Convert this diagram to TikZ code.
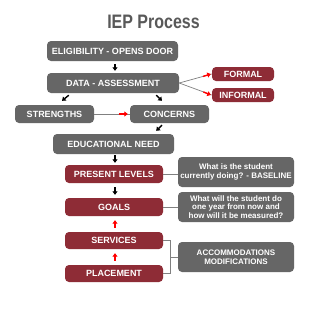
\documentclass[tikz,border=0pt]{standalone}
\usepackage{fontspec}
\setmainfont{Liberation Sans}
\usetikzlibrary{arrows.meta,calc}
\definecolor{boxgray}{HTML}{666666}
\definecolor{maroon}{HTML}{8E2C36}
\definecolor{titlegray}{HTML}{595959}
\definecolor{linegray}{HTML}{808080}
\begin{document}
\begin{tikzpicture}[x=1pt,y=-1pt,
  gbox/.style={fill=boxgray,rounded corners=4pt,text=white,font=\bfseries\fontsize{9}{10}\selectfont,inner sep=0pt,align=center},
  rbox/.style={gbox,fill=maroon},
  qbox/.style={gbox,font=\bfseries\fontsize{8}{8.8}\selectfont,minimum width=116pt,minimum height=30pt},
  barr/.style={line width=1.4pt,-{Triangle[length=3.5pt,width=5pt]},black},
  rarr/.style={barr,red},
  gline/.style={linegray,line width=0.7pt}]
\useasboundingbox[fill=white] (0,0) rectangle (330,317);
\node[font=\bfseries\fontsize{19.5}{22}\selectfont,text=titlegray] (title) at (153.5,22) {\scalebox{0.82}[1]{IEP Process}};
\node[gbox,minimum width=131pt,minimum height=20pt] (elig) at (112.5,51) {ELIGIBILITY - OPENS DOOR};
\node[gbox,minimum width=132pt,minimum height=20pt] (data) at (113,83) {DATA - ASSESSMENT};
\node[rbox,minimum width=62pt,minimum height=14pt] (formal) at (243,74) {FORMAL};
\node[rbox,minimum width=62pt,minimum height=14pt] (informal) at (243,95) {INFORMAL};
\node[gbox,minimum width=79pt,minimum height=18pt] (strengths) at (54.5,114) {STRENGTHS};
\node[gbox,minimum width=79pt,minimum height=18pt] (concerns) at (169.5,114) {CONCERNS};
\node[gbox,minimum width=121pt,minimum height=20pt] (edu) at (113.5,144) {EDUCATIONAL NEED};
\node[rbox,minimum width=98pt,minimum height=18pt] (present) at (114,174) {PRESENT LEVELS};
\node[rbox,minimum width=98pt,minimum height=18pt] (goals) at (114,207) {GOALS};
\node[rbox,minimum width=98pt,minimum height=17pt] (services) at (114,240.5) {SERVICES};
\node[rbox,minimum width=98pt,minimum height=17pt] (placement) at (114,273.5) {PLACEMENT};
\node[qbox] (q1) at (236,172) {What is the student\\currently doing? - BASELINE};
\node[qbox] (q2) at (236,207) {What will the student do\\one year from now and\\how will it be measured?};
\node[qbox] (acc) at (236,257) {ACCOMMODATIONS\\MODIFICATIONS};
% black arrows
\draw[barr] ([xshift=2.5pt,yshift=-3pt]elig.south) -- ([xshift=2pt,yshift=2pt]data.north);
\draw[barr] ([xshift=22pt,yshift=-2pt]data.south west) -- ([xshift=7.5pt,yshift=4pt]strengths.north);
\draw[barr] ([xshift=-23pt,yshift=-2pt]data.south east) -- ([xshift=-7.5pt,yshift=4pt]concerns.north);
\draw[barr] ([xshift=-7.5pt,yshift=-2pt]concerns.south) -- ([xshift=-18pt,yshift=3pt]edu.north east);
\draw[barr] ([xshift=1.5pt,yshift=-1pt]edu.south) -- ([xshift=1pt,yshift=2pt]present.north);
\draw[barr] ([xshift=1pt,yshift=-4pt]present.south) -- ([xshift=1pt,yshift=3pt]goals.north);
% red arrows
\draw[rarr] ([xshift=1pt,yshift=4pt]services.north) -- ([xshift=1pt,yshift=-4pt]goals.south);
\draw[rarr] ([xshift=1pt,yshift=4pt]placement.north) -- ([xshift=1pt,yshift=-4pt]services.south);
% gray lines with red arrow ends
\draw[gline] (data.east) -- (formal.west);
\draw[rarr] ($(formal.west)!9pt!(data.east)$) -- ([xshift=-1pt]formal.west);
\draw[gline] (data.east) -- (informal.west);
\draw[rarr] ($(informal.west)!9pt!(data.east)$) -- ([xshift=-1pt]informal.west);
\draw[gline] (strengths.east) -- (concerns.west);
\draw[rarr] ([xshift=-11pt]concerns.west) -- ([xshift=-2pt]concerns.west);
% connectors to question boxes
\draw[gline] (present.east) -- (present.east -| q1.west);
\draw[gline] (goals.east) -- (goals.east -| q2.west);
\path ([xshift=7pt]services.east) coordinate (bx);
\draw[gline] (services.east) -- (bx) |- (placement.east);
\draw[gline] (acc.west) -- (acc.west -| bx);
\end{tikzpicture}
\end{document}
